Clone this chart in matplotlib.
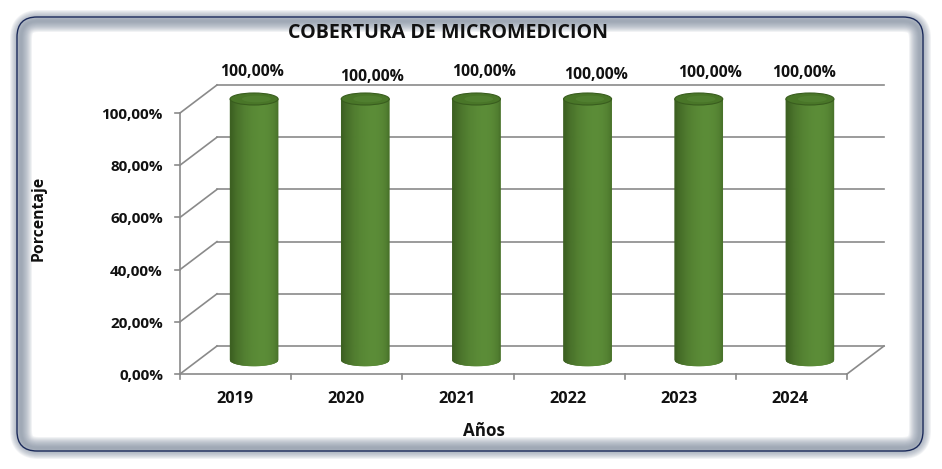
import numpy as np
import matplotlib
matplotlib.use("Agg")
import matplotlib.pyplot as plt
from matplotlib.patches import FancyBboxPatch, Ellipse
from matplotlib.collections import PolyCollection
from matplotlib.colors import to_rgb

# ---------------- data ----------------
years = ["2019", "2020", "2021", "2022", "2023", "2024"]
coverage = [100.0, 100.0, 100.0, 100.0, 100.0, 100.0]
y_ticks = [0, 20, 40, 60, 80, 100]
title = "COBERTURA DE MICROMEDICION"
y_title = "Porcentaje"
x_title = "Años"

def pct(v):
    return f"{v:.2f}".replace(".", ",") + "%"

# ---------------- figure ----------------
W, H, DPI = 942, 469, 100
plt.rcParams["font.family"] = ["Open Sans", "DejaVu Sans"]
fig = plt.figure(figsize=(W / DPI, H / DPI), dpi=DPI, facecolor="white")
renderer = fig.canvas.get_renderer()

def fit(txt, target_px, base=10.0):
    txt.set_fontsize(base)
    wpx = txt.get_window_extent(renderer).width
    size = base * target_px / wpx
    txt.set_fontsize(size)
    return size

# frame overlay (pixel coords)
fr = fig.add_axes([0, 0, 1, 1], zorder=0)
fr.set_xlim(0, W)
fr.set_ylim(H, 0)
fr.axis("off")
band_col = (0.47, 0.52, 0.60)
for k in range(12):
    lw = 22 - 1.8 * k
    fr.add_patch(FancyBboxPatch((21, 21), 899, 427,
                                boxstyle="round,pad=0,rounding_size=17",
                                fill=False, edgecolor=band_col, lw=lw * 0.72,
                                alpha=0.09, joinstyle="round"))
fr.add_patch(FancyBboxPatch((17, 17), 906, 434,
                            boxstyle="round,pad=0,rounding_size=20",
                            fill=False, edgecolor="#1b2a5a", lw=1.0))

# chart axes: front plane
x0, x1 = 180, 847
yb, yt = 374, 113
ax = fig.add_axes([x0 / W, (H - yb) / H, (x1 - x0) / W, (yb - yt) / H], zorder=1)
ax.set_xlim(-0.5, len(years) - 0.5)
ax.set_ylim(0, 100)
ax.axis("off")
ax.patch.set_alpha(0)

px_x = (x1 - x0) / len(years)      # pixels per x unit
px_y = (yb - yt) / 100.0           # pixels per y unit
DX = 37 / px_x
DY = 28 / px_y
grid_c = "#8a8a8a"
glw = 1.2
xl, xr = -0.5, len(years) - 0.5
txt_c = "#111111"

# probe sizes by target widths measured on the reference
probe = fig.text(0, 0, pct(100), fontweight="bold")
tick_fs = fit(probe, 62)
lab_fs = fit(probe, 64)
probe.set_text("2021")
year_fs = fit(probe, 37)
probe.remove()

# back wall gridlines + left diagonals
for t in y_ticks:
    ax.plot([xl + DX, xr + DX], [t + DY, t + DY], color=grid_c, lw=glw, clip_on=False, zorder=1)
    ax.plot([xl, xl + DX], [t, t + DY], color=grid_c, lw=glw, clip_on=False, zorder=1)
    ax.plot([xl - 5 / px_x, xl], [t, t], color=grid_c, lw=glw, clip_on=False, zorder=1)
    ax.annotate(pct(t), (xl, t), xytext=(-17, -2), textcoords="offset pixels",
                ha="right", va="center", fontsize=tick_fs, fontweight="bold", color=txt_c,
                annotation_clip=False)
# front left axis
ax.plot([xl, xl], [0, 100], color=grid_c, lw=glw, clip_on=False, zorder=1)
# floor
ax.plot([xl, xr], [0, 0], color=grid_c, lw=glw, clip_on=False, zorder=1)
ax.plot([xr, xr + DX], [0, DY], color=grid_c, lw=glw, clip_on=False, zorder=1)
for b in np.arange(xl, xr + 0.01, 1.0):
    ax.plot([b, b], [0, -5 / px_y], color=grid_c, lw=glw, clip_on=False, zorder=1)

# cylinders
w = 48 / px_x
ry = 6 / px_y
dark = np.array(to_rgb("#2d4a16"))
light = np.array(to_rgb("#5b8c37"))
N = 90
us = np.linspace(-1, 1, N + 1)
label_nudge = [(-2, 27), (7, 22), (8, 27), (8, 24), (11, 26), (-6, 26)]
for i, (yr, v) in enumerate(zip(years, coverage)):
    c = i + DX / 2
    base = DY / 2
    top = v + DY / 2
    polys, cols = [], []
    for a, bb in zip(us[:-1], us[1:]):
        xa, xb = c + a * w / 2, c + bb * w / 2
        ya = base - ry * np.sqrt(max(0, 1 - a * a))
        ybb = base - ry * np.sqrt(max(0, 1 - bb * bb))
        polys.append([(xa, ya), (xb, ybb), (xb, top), (xa, top)])
        um = (a + bb) / 2
        th = np.arcsin(np.clip(um, -1, 1))
        inten = 0.35 + 0.65 * max(0.0, np.cos(th - 0.35)) ** 1.2
        cols.append(dark + (light - dark) * inten)
    pc = PolyCollection(polys, facecolors=cols, edgecolors=cols, linewidths=0.4,
                        zorder=3, clip_on=False)
    ax.add_collection(pc)
    ax.add_patch(Ellipse((c, top), w, 2 * ry, facecolor="#497628", edgecolor="#395d1e",
                         lw=0.8, zorder=4, clip_on=False))
    ax.add_patch(Ellipse((c + w * 0.05, top), w * 0.6, 2 * ry * 0.55, facecolor="#548333",
                         edgecolor="none", zorder=4, clip_on=False, alpha=0.7))
    dx, dy = label_nudge[i]
    ax.annotate(pct(v), (c, top), xytext=(dx, dy), textcoords="offset pixels",
                ha="center", va="center", fontsize=lab_fs, fontweight="bold", color=txt_c,
                annotation_clip=False, zorder=5)
    ax.annotate(yr, (i, 0), xytext=(-1, -25), textcoords="offset pixels",
                ha="center", va="center", fontsize=year_fs, fontweight="bold", color=txt_c,
                annotation_clip=False)

# titles
tt = fig.text(448 / W, 1 - 33 / H, title, ha="center", va="center",
              fontweight="bold", color=txt_c)
fit(tt, 319)
yt_txt = fig.text(38.5 / W, 1 - 218 / H, y_title, rotation=90, ha="center", va="center",
                  fontweight="bold", color=txt_c)
yt_txt.set_fontsize(10)
hpx = yt_txt.get_window_extent(renderer).height
yt_txt.set_fontsize(10 * 85 / hpx)
xt_txt = fig.text(484 / W, 1 - 431 / H, x_title, ha="center", va="center",
                  fontweight="bold", color=txt_c)
fit(xt_txt, 42)

fig.savefig("out.png", dpi=DPI, facecolor="white")
